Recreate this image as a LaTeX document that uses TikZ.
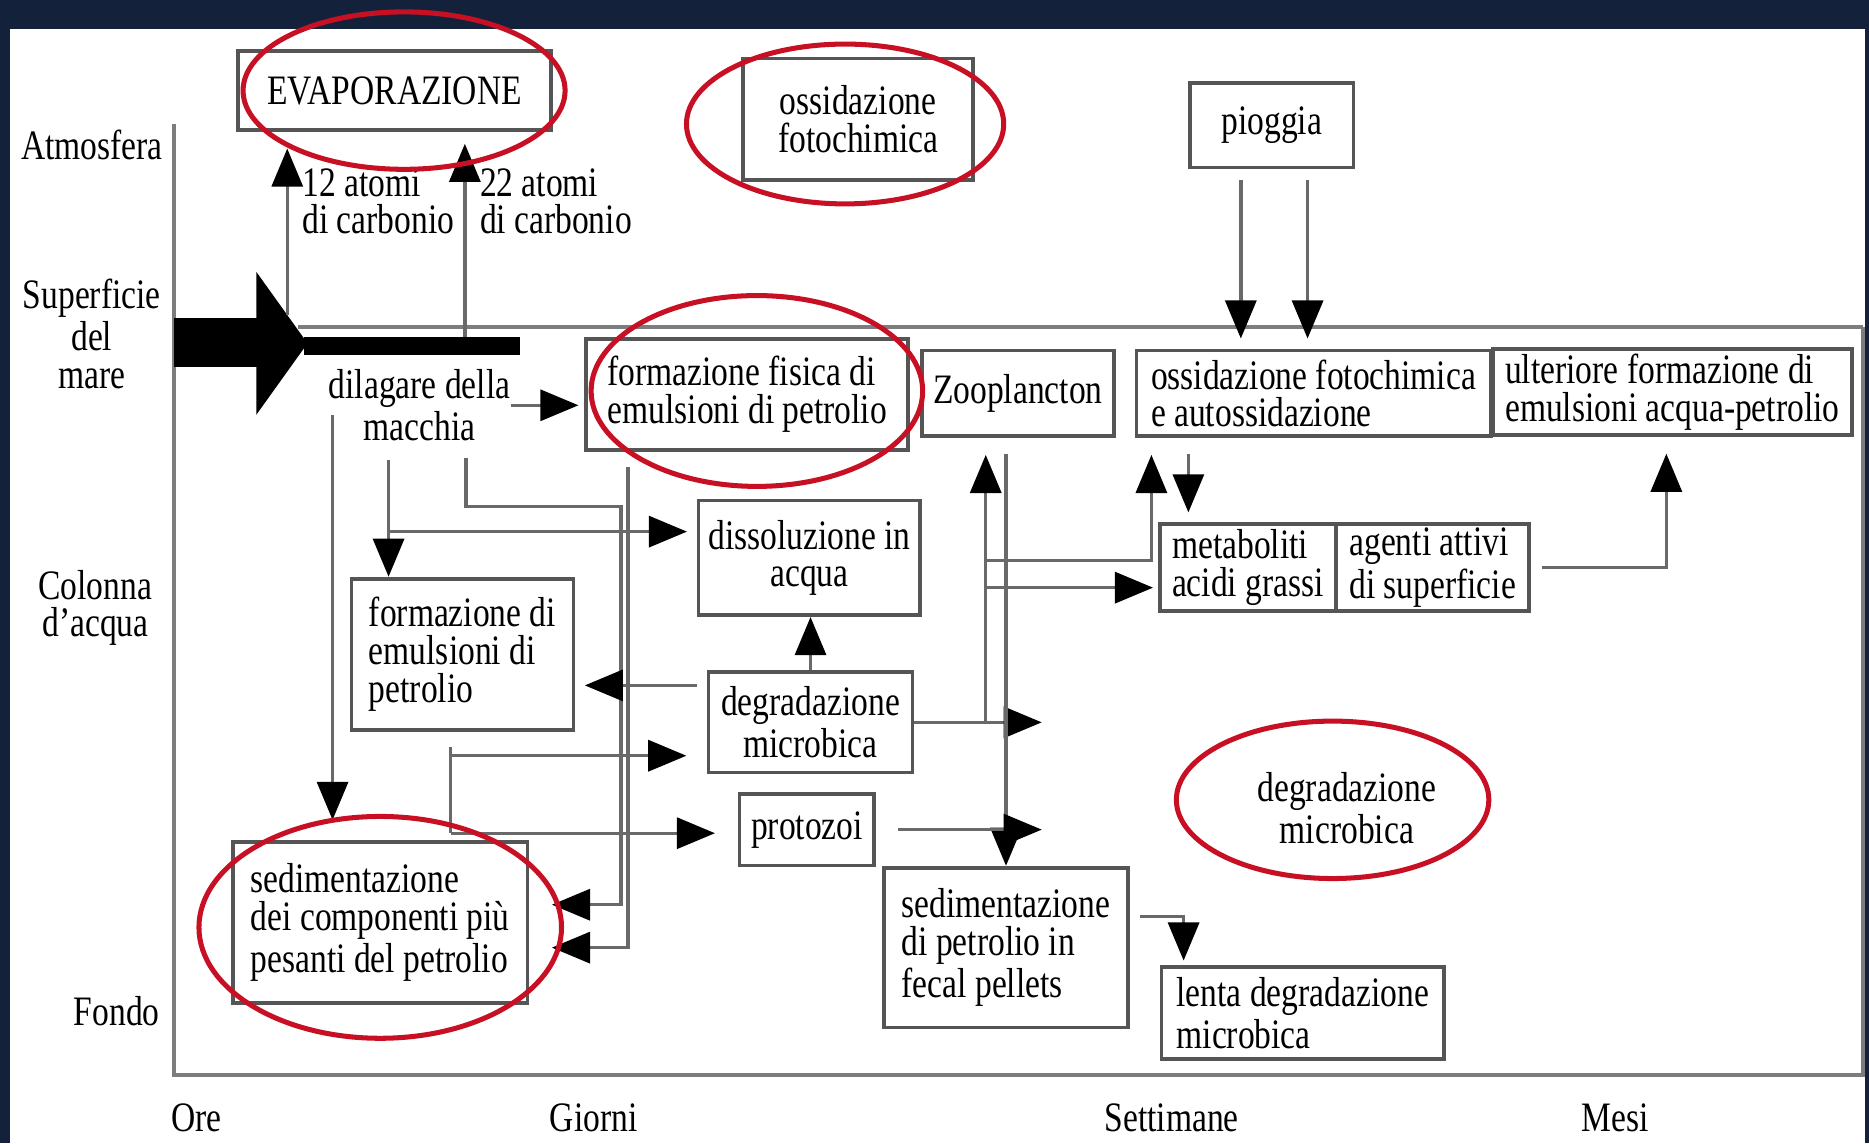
\documentclass[tikz,border=0pt]{standalone}
\usepackage{fontspec}
\setmainfont{Liberation Serif}[FakeStretch=0.8]
\usepackage{tikz}
\usetikzlibrary{arrows.meta}
\definecolor{framenavy}{RGB}{19,34,58}
\definecolor{boxgray}{RGB}{85,85,85}
\definecolor{linegray}{RGB}{105,105,105}
\definecolor{axisgray}{RGB}{125,125,125}
\definecolor{ringred}{RGB}{200,16,36}
\newcommand{\diagfont}{\fontsize{10}{9}\selectfont}

\begin{document}
\begin{tikzpicture}[x=0.01cm, y=-0.01cm, >={Triangle[length=0.32cm,width=0.26cm,color=black]},
    box/.style={draw=boxgray, line width=0.9pt, inner sep=0pt, font=\diagfont, align=left},
    tag/.style={inner sep=0pt, font=\diagfont, align=center},
    link/.style={draw=linegray, line width=0.8pt},
    ring/.style={draw=ringred, line width=1.2pt}]
    \useasboundingbox (0,0) rectangle (1568,959);

    % Frame
    \fill[framenavy] (0,0) rectangle (1568,959);
    \fill[white] (8,24) rectangle (1565,959);

    % Axes
    \draw[axisgray, line width=0.9pt] (146,104) -- (146,902) -- (1563,902) -- (1563,274);
    \draw[axisgray, line width=0.9pt] (250,274) -- (1563,274);

    % Spill arrow
    \fill[black] (146,267) rectangle (216,308);
    \fill[black] (215,228) -- (258,288) -- (215,348) -- cycle;
    \fill[black] (255,283) rectangle (436,298);

    % Side and time labels
    \node[tag] (atm) at (77,122) {Atmosfera};
    \node[tag] (sup) at (77,280) {Superficie\\del\\mare};
    \node[tag] (col) at (80,510) {Colonna\\d'acqua};
    \node[tag] (fondo) at (98,848) {Fondo};
    \node[tag] (ore) at (165,938) {Ore};
    \node[tag] (giorni) at (498,938) {Giorni};
    \node[tag] (sett) at (983,938) {Settimane};
    \node[tag] (mesi) at (1355,938) {Mesi};

    % Boxes
    \node[box, minimum width=2.62cm, minimum height=0.66cm, align=center] (evap) at (331,76) {EVAPORAZIONE};
    \node[box, minimum width=1.93cm, minimum height=1.02cm, align=center] (oxfoto) at (720,100) {ossidazione\\fotochimica};
    \node[box, minimum width=1.37cm, minimum height=0.71cm] (pioggia) at (1067,105) {pioggia};
    \node[box, minimum width=2.70cm, minimum height=0.93cm] (fisica) at (627,331) {formazione fisica di\\emulsioni di petrolio};
    \node[box, minimum width=1.61cm, minimum height=0.72cm] (zoo) at (854,330) {Zooplancton};
    \node[box, minimum width=2.97cm, minimum height=0.72cm] (oxauto) at (1102,330) {ossidazione fotochimica\\e autossidazione};
    \node[box, minimum width=3.01cm, minimum height=0.72cm] (ulteriore) at (1403,329) {ulteriore formazione di\\emulsioni acqua-petrolio};
    \node[box, minimum width=1.86cm, minimum height=0.96cm, align=center] (dissol) at (679,468) {dissoluzione in\\acqua};
    \node[box, minimum width=1.48cm, minimum height=0.73cm] (metab) at (1047,476) {metaboliti\\acidi grassi};
    \node[box, minimum width=1.62cm, minimum height=0.73cm] (agenti) at (1202,476) {agenti attivi\\di superficie};
    \node[box, minimum width=1.86cm, minimum height=1.27cm] (emuls) at (388,549) {formazione di\\emulsioni di\\petrolio};
    \node[box, minimum width=1.71cm, minimum height=0.84cm, align=center] (degrad) at (680,606) {degradazione\\microbica};
    \node[box, minimum width=1.13cm, minimum height=0.60cm] (protoz) at (677,696) {protozoi};
    \node[box, minimum width=2.47cm, minimum height=1.35cm] (sedcomp) at (319,774) {sedimentazione\\dei componenti più\\pesanti del petrolio};
    \node[box, minimum width=2.04cm, minimum height=1.34cm] (fecal) at (844,795) {sedimentazione\\di petrolio in\\fecal pellets};
    \node[box, minimum width=2.37cm, minimum height=0.77cm] (lenta) at (1093,850) {lenta degradazione\\microbica};
    \node[tag] (dilag) at (352,340) {dilagare della\\macchia};
    \node[tag] (degrad2) at (1130,678) {degradazione\\microbica};
    \node[tag, align=left, anchor=west] (c12) at (253,169) {12 atomi\\di carbonio};
    \node[tag, align=left, anchor=west] (c22) at (402,169) {22 atomi\\di carbonio};

    % Junction points
    \coordinate (ev1) at (241,264);
    \coordinate (ev2) at (390,283);
    \coordinate (r1) at (1041,284);
    \coordinate (r2) at (1097,284);
    \coordinate (dl) at (279,348);
    \coordinate (dm) at (326,386);
    \coordinate (dmb) at (326,446);
    \coordinate (dr) at (391,384);
    \coordinate (k1) at (521,425);
    \coordinate (fb) at (527,392);
    \coordinate (sa) at (463,759);
    \coordinate (sb) at (463,795);
    \coordinate (eb) at (378,627);
    \coordinate (eb1) at (378,634);
    \coordinate (eb2) at (378,699);
    \coordinate (zx1) at (827,0);
    \coordinate (zx2) at (844,0);
    \coordinate (b1) at (827,470);
    \coordinate (b2) at (827,493);
    \coordinate (ox1) at (966,0);

    % Connectors
    \draw[link,->,shorten >=0.14cm] (ev1) -- (ev1 |- evap.south);
    \draw[link,->,shorten >=0.10cm] (ev2) -- (ev2 |- evap.south);
    \draw[link,->,shorten <=0.09cm] (r1 |- pioggia.south) -- (r1);
    \draw[link,->,shorten <=0.09cm] (r2 |- pioggia.south) -- (r2);
    \draw[link,->,shorten >=0.05cm] (dilag.east) -- (dilag.east -| fisica.west);
    \draw[link,->,shorten >=0.17cm] (dl) -- (dl |- sedcomp.north);
    \draw[link,->] (dm) -- (dm |- emuls.north);
    \draw[link,->,shorten >=0.08cm] (dmb) -- (dmb -| dissol.west);
    \draw[link,->] (dr) |- (k1) |- (sa);
    \draw[link,->] (fb) |- (sb);
    \draw[link,->] (degrad.north) -- (degrad.north |- dissol.south);
    \draw[link,->,shorten <=0.08cm,shorten >=0.08cm] (degrad.west |- 0,575) -- (emuls.east |- 0,575);
    \draw[link] (eb) -- (eb2);
    \draw[link,->,shorten >=0.17cm] (eb1) -- (eb1 -| degrad.west);
    \draw[link,->,shorten >=0.19cm] (eb2) -- (eb2 -| protoz.west);
    \draw[link,->] (degrad.east) -- (degrad.east -| 874,0);
    \draw[link,->,shorten >=0.14cm] (zx1 |- degrad.east) -- (zx1 |- zoo.south);
    \draw[link,->,shorten >=0.14cm] (b1) -| (ox1 |- oxauto.south);
    \draw[link,->,shorten >=0.04cm] (b2) -- (b2 -| metab.west);
    \draw[link,->,shorten <=0.13cm] (zx2 |- zoo.south) -- (zx2 |- fecal.north);
    \draw[link,->,shorten <=0.18cm] (protoz.east) -- (protoz.east -| 874,0);
    \draw[link,->,shorten <=0.13cm,shorten >=0.08cm] (oxauto.south -| 997,0) -- (metab.north -| 997,0);
    \draw[link,->,shorten <=0.09cm,shorten >=0.14cm] (agenti.east) -| (ulteriore.south -| 1398,0);
    \draw[link,->,shorten <=0.09cm,shorten >=0.04cm] (fecal.east |- 0,769) -| (lenta.north -| 993,0);

    % Red rings
    \draw[ring] ([xshift=0.08cm]evap.center) ellipse [x radius=1.35cm, y radius=0.66cm];
    \draw[ring] ([xshift=-0.11cm,yshift=-0.04cm]oxfoto.center) ellipse [x radius=1.33cm, y radius=0.67cm];
    \draw[ring] ([xshift=0.08cm,yshift=0.03cm]fisica.center) ellipse [x radius=1.39cm, y radius=0.80cm];
    \draw[ring] ([yshift=-0.04cm]sedcomp.center) ellipse [x radius=1.52cm, y radius=0.93cm];
    \draw[ring] ([xshift=-0.12cm,yshift=0.07cm]degrad2.center) ellipse [x radius=1.31cm, y radius=0.66cm];
\end{tikzpicture}
\end{document}
